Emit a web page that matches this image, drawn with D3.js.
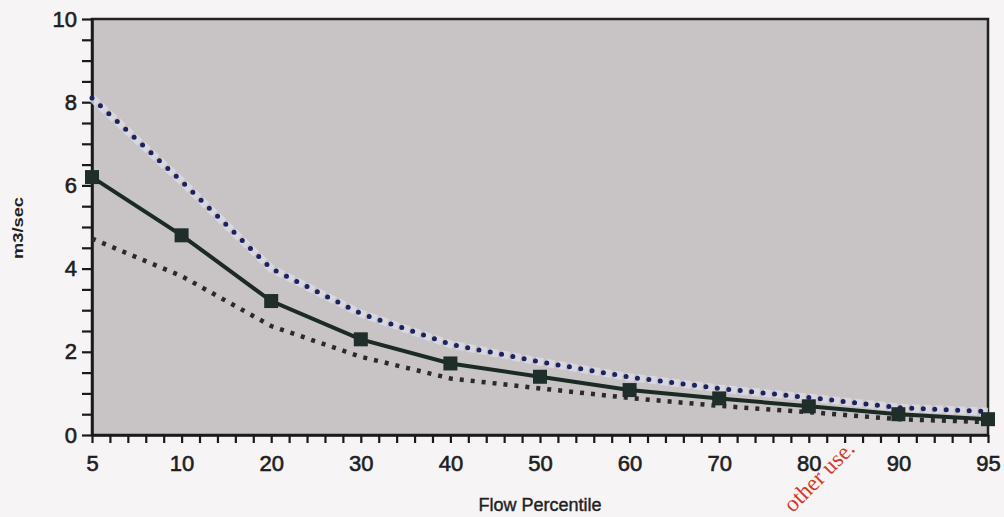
<!DOCTYPE html>
<html>
<head>
<meta charset="utf-8">
<script src="https://cdn.jsdelivr.net/npm/d3@7"></script>
<style>
  html, body { margin: 0; padding: 0; background: #f6f4f5; }
  svg { display: block; }
  .tick text { font-family: "Liberation Sans", Arial, sans-serif; fill: #1e1e1e; stroke: #1e1e1e; stroke-width: 0.6; }
</style>
</head>
<body>
<svg id="chart" width="1004" height="517"></svg>
<script>
// Flow percentile curve with upper/lower bounds (m3/sec)

const categories = [5, 10, 20, 30, 40, 50, 60, 70, 80, 90, 95];
const medianFlow = [6.2, 4.8, 3.22, 2.3, 1.72, 1.4, 1.08, 0.88, 0.69, 0.5, 0.38];
const upperFlow = [8.1, 6.1, 4.0, 2.92, 2.18, 1.76, 1.39, 1.12, 0.9, 0.66, 0.56];
const lowerFlow = [4.72, 3.82, 2.62, 1.88, 1.36, 1.12, 0.89, 0.7, 0.55, 0.38, 0.31];
const yLabels = [0, 2, 4, 6, 8, 10];

const M = { top: 19, right: 16, bottom: 82, left: 92 };
const W = 1004 - M.left - M.right;
const H = 517 - M.top - M.bottom;

const svg = d3.select('#chart');
const g = svg.append('g').attr('transform', `translate(${M.left},${M.top})`);

// x is an index scale so minor ticks can sit between categories
const x = d3.scaleLinear().domain([0, categories.length - 1]).range([0, W]);
const y = d3.scaleLinear().domain([0, 10]).range([H, 0]);

// plot background + frame
g.append('rect')
  .attr('x', 0).attr('y', 0)
  .attr('width', W).attr('height', H)
  .attr('fill', '#c8c3c4')
  .attr('stroke', '#222')
  .attr('stroke-width', 2.5);

// axes
const xTicks = d3.range(0, (categories.length - 1) * 5 + 1).map(i => i / 5);
const isMajor = v => Math.abs(v - Math.round(v)) < 1e-6;

const xAxisG = g.append('g')
  .attr('transform', `translate(0,${H})`)
  .call(d3.axisBottom(x)
    .tickValues(xTicks)
    .tickSize(8)
    .tickSizeOuter(0)
    .tickPadding(12)
    .tickFormat(v => isMajor(v) ? categories[Math.round(v)] : ''));

const yAxisG = g.append('g')
  .call(d3.axisLeft(y)
    .tickValues(d3.range(0, 10.01, 0.5))
    .tickSize(10)
    .tickSizeOuter(0)
    .tickPadding(5)
    .tickFormat(v => yLabels.includes(v) ? v : ''));

[xAxisG, yAxisG].forEach(a => {
  a.select('.domain').attr('stroke', '#1a1a1a').attr('stroke-width', 2.5);
  a.selectAll('.tick line').attr('stroke', '#1a1a1a').attr('stroke-width', 2.2);
  a.selectAll('.tick text').attr('font-size', 22);
});

// line generators
const line = d3.line()
  .x((d, i) => x(i))
  .y(d => y(d));

// upper bound: navy dots with a pale halo
g.append('path')
  .datum(upperFlow)
  .attr('d', line)
  .attr('fill', 'none')
  .attr('stroke', '#dcdce6')
  .attr('stroke-width', 8)
  .attr('stroke-dasharray', '8 3.5')
  .attr('opacity', 0.8);

g.append('path')
  .datum(upperFlow)
  .attr('d', line)
  .attr('fill', 'none')
  .attr('stroke', '#1b2260')
  .attr('stroke-width', 5)
  .attr('stroke-linecap', 'round')
  .attr('stroke-dasharray', '0 11.5');

// lower bound: dark dots
g.append('path')
  .datum(lowerFlow)
  .attr('d', line)
  .attr('fill', 'none')
  .attr('stroke', '#2a2a2a')
  .attr('stroke-width', 4.5)
  .attr('stroke-dasharray', '4 7');

// median: solid line with squares
g.append('path')
  .datum(medianFlow)
  .attr('d', line)
  .attr('fill', 'none')
  .attr('stroke', '#1c2a26')
  .attr('stroke-width', 4);

g.selectAll('rect.marker')
  .data(medianFlow)
  .enter()
  .append('rect')
  .attr('class', 'marker')
  .attr('x', (d, i) => x(i) - 7)
  .attr('y', d => y(d) - 7)
  .attr('width', 14)
  .attr('height', 14)
  .attr('fill', '#1f2e2a');

// axis titles
svg.append('text')
  .attr('transform', 'translate(23,228) rotate(-90)')
  .attr('text-anchor', 'middle')
  .attr('font-family', 'Liberation Sans, Arial, sans-serif')
  .attr('font-size', 14)
  .attr('font-weight', 'bold')
  .attr('textLength', 62)
  .attr('lengthAdjust', 'spacingAndGlyphs')
  .attr('fill', '#222')
  .text('m3/sec');

svg.append('text')
  .attr('x', M.left + W / 2)
  .attr('y', 511)
  .attr('text-anchor', 'middle')
  .attr('font-family', 'Liberation Sans, Arial, sans-serif')
  .attr('font-size', 18)
  .attr('fill', '#222')
  .attr('stroke', '#222')
  .attr('stroke-width', 0.4)
  .text('Flow Percentile');

// red stamp text
svg.append('text')
  .attr('transform', 'translate(856,450) rotate(-45)')
  .attr('text-anchor', 'end')
  .attr('font-family', 'Liberation Serif, Times New Roman, serif')
  .attr('font-size', 23)
  .attr('fill', '#d23a2a')
  .text('other use.');
</script>
</body>
</html>
